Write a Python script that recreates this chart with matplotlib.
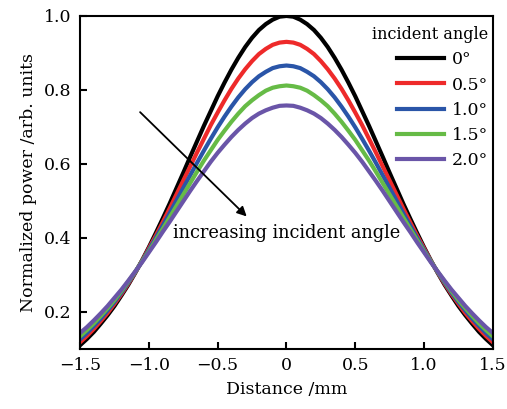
import numpy as np
import matplotlib
matplotlib.use('Agg')
import matplotlib.pyplot as plt

plt.rcParams['font.family'] = ['DejaVu Serif']

# Distance (mm), right half; the curves are symmetric about 0
x_half = [0.00, 0.05, 0.10, 0.15, 0.20, 0.25, 0.30, 0.35, 0.40, 0.45, 0.50,
          0.55, 0.60, 0.65, 0.70, 0.75, 0.80, 0.85, 0.90, 0.95, 1.00,
          1.05, 1.10, 1.15, 1.20, 1.25, 1.30, 1.35, 1.40, 1.45, 1.50]

# Normalized power, one list per incident angle
p_00 = [1.000, 0.998, 0.990, 0.978, 0.962, 0.941, 0.916, 0.887, 0.855, 0.820, 0.783,
        0.743, 0.703, 0.661, 0.619, 0.576, 0.534, 0.492, 0.452, 0.413, 0.375,
        0.339, 0.305, 0.273, 0.244, 0.216, 0.191, 0.168, 0.146, 0.127, 0.110]
p_05 = [0.930, 0.928, 0.922, 0.911, 0.897, 0.878, 0.856, 0.831, 0.803, 0.772, 0.739,
        0.705, 0.668, 0.631, 0.593, 0.555, 0.517, 0.479, 0.442, 0.406, 0.372,
        0.338, 0.306, 0.276, 0.248, 0.222, 0.197, 0.175, 0.154, 0.135, 0.118]
p_10 = [0.866, 0.864, 0.859, 0.849, 0.837, 0.821, 0.802, 0.780, 0.755, 0.728, 0.699,
        0.668, 0.636, 0.603, 0.569, 0.535, 0.501, 0.466, 0.433, 0.400, 0.368,
        0.337, 0.307, 0.279, 0.252, 0.227, 0.204, 0.182, 0.162, 0.143, 0.126]
p_15 = [0.812, 0.810, 0.806, 0.798, 0.786, 0.772, 0.756, 0.736, 0.714, 0.690, 0.665,
        0.637, 0.609, 0.579, 0.548, 0.517, 0.486, 0.455, 0.424, 0.394, 0.364,
        0.336, 0.308, 0.282, 0.256, 0.232, 0.210, 0.189, 0.169, 0.151, 0.134]
p_20 = [0.758, 0.757, 0.752, 0.745, 0.736, 0.724, 0.709, 0.692, 0.673, 0.652, 0.630,
        0.606, 0.580, 0.554, 0.527, 0.499, 0.471, 0.443, 0.416, 0.388, 0.361,
        0.334, 0.309, 0.284, 0.260, 0.238, 0.216, 0.196, 0.177, 0.159, 0.143]

labels = ['0°', '0.5°', '1.0°', '1.5°', '2.0°']
colors = ['#000000', '#ee2a2a', '#2a55a8', '#66bb46', '#6a55a8']

def full(half):
    half = np.array(half)
    return np.concatenate([half[:0:-1], half])

x = np.concatenate([-np.array(x_half)[:0:-1], np.array(x_half)])

fig = plt.figure(figsize=(5.07, 4.09), dpi=100)
ax = fig.add_axes([0.158, 0.147, 0.814, 0.814])

for vals, lab, c in zip([p_00, p_05, p_10, p_15, p_20], labels, colors):
    ax.plot(x, full(vals), color=c, lw=3.0, label=lab, solid_joinstyle='round')

ax.set_xlim(-1.5, 1.5)
ax.set_ylim(0.1, 1.0)
ax.set_xticks([-1.5, -1.0, -0.5, 0, 0.5, 1.0, 1.5])
ax.set_xticklabels(['\u22121.5', '\u22121.0', '\u22120.5', '0', '0.5', '1.0', '1.5'])
ax.set_yticks([0.2, 0.4, 0.6, 0.8, 1.0])
ax.tick_params(direction='in', length=5, width=1.5, labelsize=12.5, pad=6)
for s in ax.spines.values():
    s.set_linewidth(1.5)

ax.set_xlabel('Distance /mm', fontsize=12.5, labelpad=5)
ax.set_ylabel('Normalized power /arb. units', fontsize=12.5, labelpad=5)

ax.annotate('', xy=(-0.289, 0.458), xytext=(-1.064, 0.740),
            arrowprops=dict(arrowstyle='-|>', color='black', lw=1.3,
                            mutation_scale=14, shrinkA=0, shrinkB=0))
ax.text(-0.825, 0.40, 'increasing incident angle', fontsize=12.8, va='baseline')

leg = ax.legend(loc='upper right', bbox_to_anchor=(1.005, 0.99), frameon=False,
                title='incident angle', fontsize=12.5, title_fontsize=11.5,
                handlelength=2.7, labelspacing=0.47, handletextpad=0.45,
                borderaxespad=0.0)
leg._legend_box.align = 'right'

fig.savefig('out.png', dpi=100)
